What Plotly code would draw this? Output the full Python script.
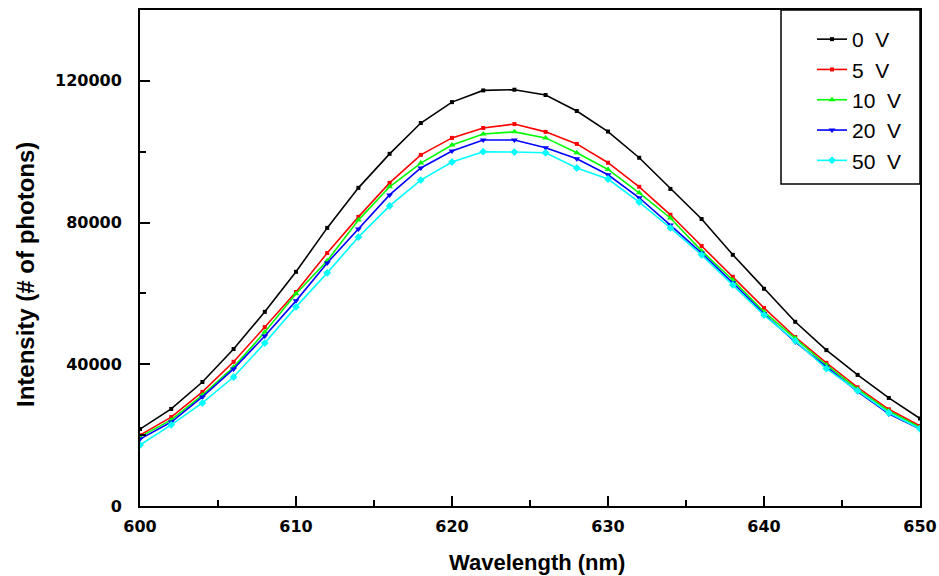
import plotly.graph_objects as go

wavelength = list(range(600, 651, 2))

v0 = [21700, 27400, 35000, 44300, 54800, 66100, 78500, 89800, 99400, 108100, 114000, 117300, 117500,
      116000, 111500, 105700, 98300, 89500, 81000, 70900, 61300, 52000, 44000, 37000, 30500, 24700]
v5 = [20000, 25100, 32200, 40700, 50500, 60400, 71400, 81600, 91200, 99100, 103900, 106700, 107800,
      105600, 102200, 96900, 90100, 82200, 73400, 64700, 55900, 47700, 40400, 33500, 27300, 22600]
v10 = [19500, 24300, 31300, 39200, 49100, 59900, 69200, 80700, 90100, 96800, 101900, 105000, 105600,
       103900, 99700, 95000, 88400, 81300, 72000, 63800, 54800, 47400, 39800, 33000, 26800, 22200]
v20 = [18900, 23700, 30800, 38700, 48000, 57900, 68600, 78200, 87800, 95400, 100200, 103300, 103300,
       101100, 98000, 93500, 87000, 79300, 71400, 63000, 54200, 46300, 39200, 32300, 26000, 21700]
v50 = [17200, 22900, 29100, 36400, 46000, 56200, 65800, 75900, 84700, 92000, 97100, 100000, 99900,
       99700, 95400, 92300, 85800, 78500, 70900, 62400, 53900, 46600, 38800, 32500, 26300, 21800]

series_names = ["0  V", "5  V", "10  V", "20  V", "50  V"]
series_values = [v0, v5, v10, v20, v50]
colors = ["#000000", "#FF0000", "#00FF00", "#0000FF", "#00FFFF"]
symbols = ["square", "square", "triangle-up", "triangle-down", "diamond"]
msizes = [4, 4, 6, 6, 6]

x_ticks = [600, 610, 620, 630, 640, 650]
y_ticks = [0, 40000, 80000, 120000]
y_ticktext = ["0", "40000", "80000", "120000"]

W, H = 939, 576
L, R, T, B = 140, 19, 10, 70
pw, ph = W - L - R, H - T - B

def px(x):
    return (x - L) / pw

def py(y):
    return (H - B - y) / ph

fig = go.Figure()
for name, vals, c, s, ms in zip(series_names, series_values, colors, symbols, msizes):
    fig.add_trace(go.Scatter(x=wavelength, y=vals, name=name, mode="lines+markers",
                             line=dict(color=c, width=1.6),
                             marker=dict(symbol=s, size=ms, color=c)))

tickfont = dict(family="DejaVu Sans, sans-serif", size=16, color="black", weight="bold")
fig.update_layout(
    width=W, height=H,
    margin=dict(l=L, r=R, t=T, b=B, autoexpand=False),
    plot_bgcolor="white", paper_bgcolor="white",
    showlegend=True,
    legend=dict(x=px(812), y=py(19), xanchor="left", yanchor="top",
                borderwidth=0, bgcolor="rgba(0,0,0,0)",
                font=dict(family="Liberation Sans, Arial, sans-serif", size=21, color="black"),
                tracegroupgap=0),
    xaxis=dict(range=[600, 650], tickvals=x_ticks, automargin=False,
               ticks="inside", ticklen=10, tickwidth=1.5, tickcolor="black",
               minor=dict(ticks="inside", ticklen=6, tickwidth=1.5, tickcolor="black", dtick=5),
               showline=True, linecolor="black", linewidth=2, mirror=True,
               showgrid=False, zeroline=False, tickfont=tickfont, ticklabelstandoff=5),
    yaxis=dict(range=[0, 140000], tickvals=y_ticks, ticktext=y_ticktext, automargin=False,
               ticks="inside", ticklen=10, tickwidth=1.5, tickcolor="black",
               minor=dict(ticks="inside", ticklen=6, tickwidth=1.5, tickcolor="black", dtick=20000),
               showline=True, linecolor="black", linewidth=2, mirror=True,
               showgrid=False, zeroline=False, tickfont=tickfont, ticklabelstandoff=13),
    shapes=[dict(type="rect", xref="paper", yref="paper",
                 x0=px(781), x1=1, y0=py(184), y1=1,
                 line=dict(color="black", width=1.5), fillcolor="white", layer="below")],
    annotations=[
        dict(text="Wavelength (nm)", xref="paper", yref="paper", x=px(537), y=py(562),
             xanchor="center", yanchor="middle", showarrow=False,
             font=dict(family="Liberation Sans, Arial, sans-serif", size=22, color="black", weight="bold")),
        dict(text="Intensity (# of photons)", xref="paper", yref="paper", x=px(25), y=py(275),
             xanchor="center", yanchor="middle", showarrow=False, textangle=-90,
             font=dict(family="Liberation Sans, Arial, sans-serif", size=24, color="black", weight="bold")),
    ],
)

fig.write_html("out.html")
